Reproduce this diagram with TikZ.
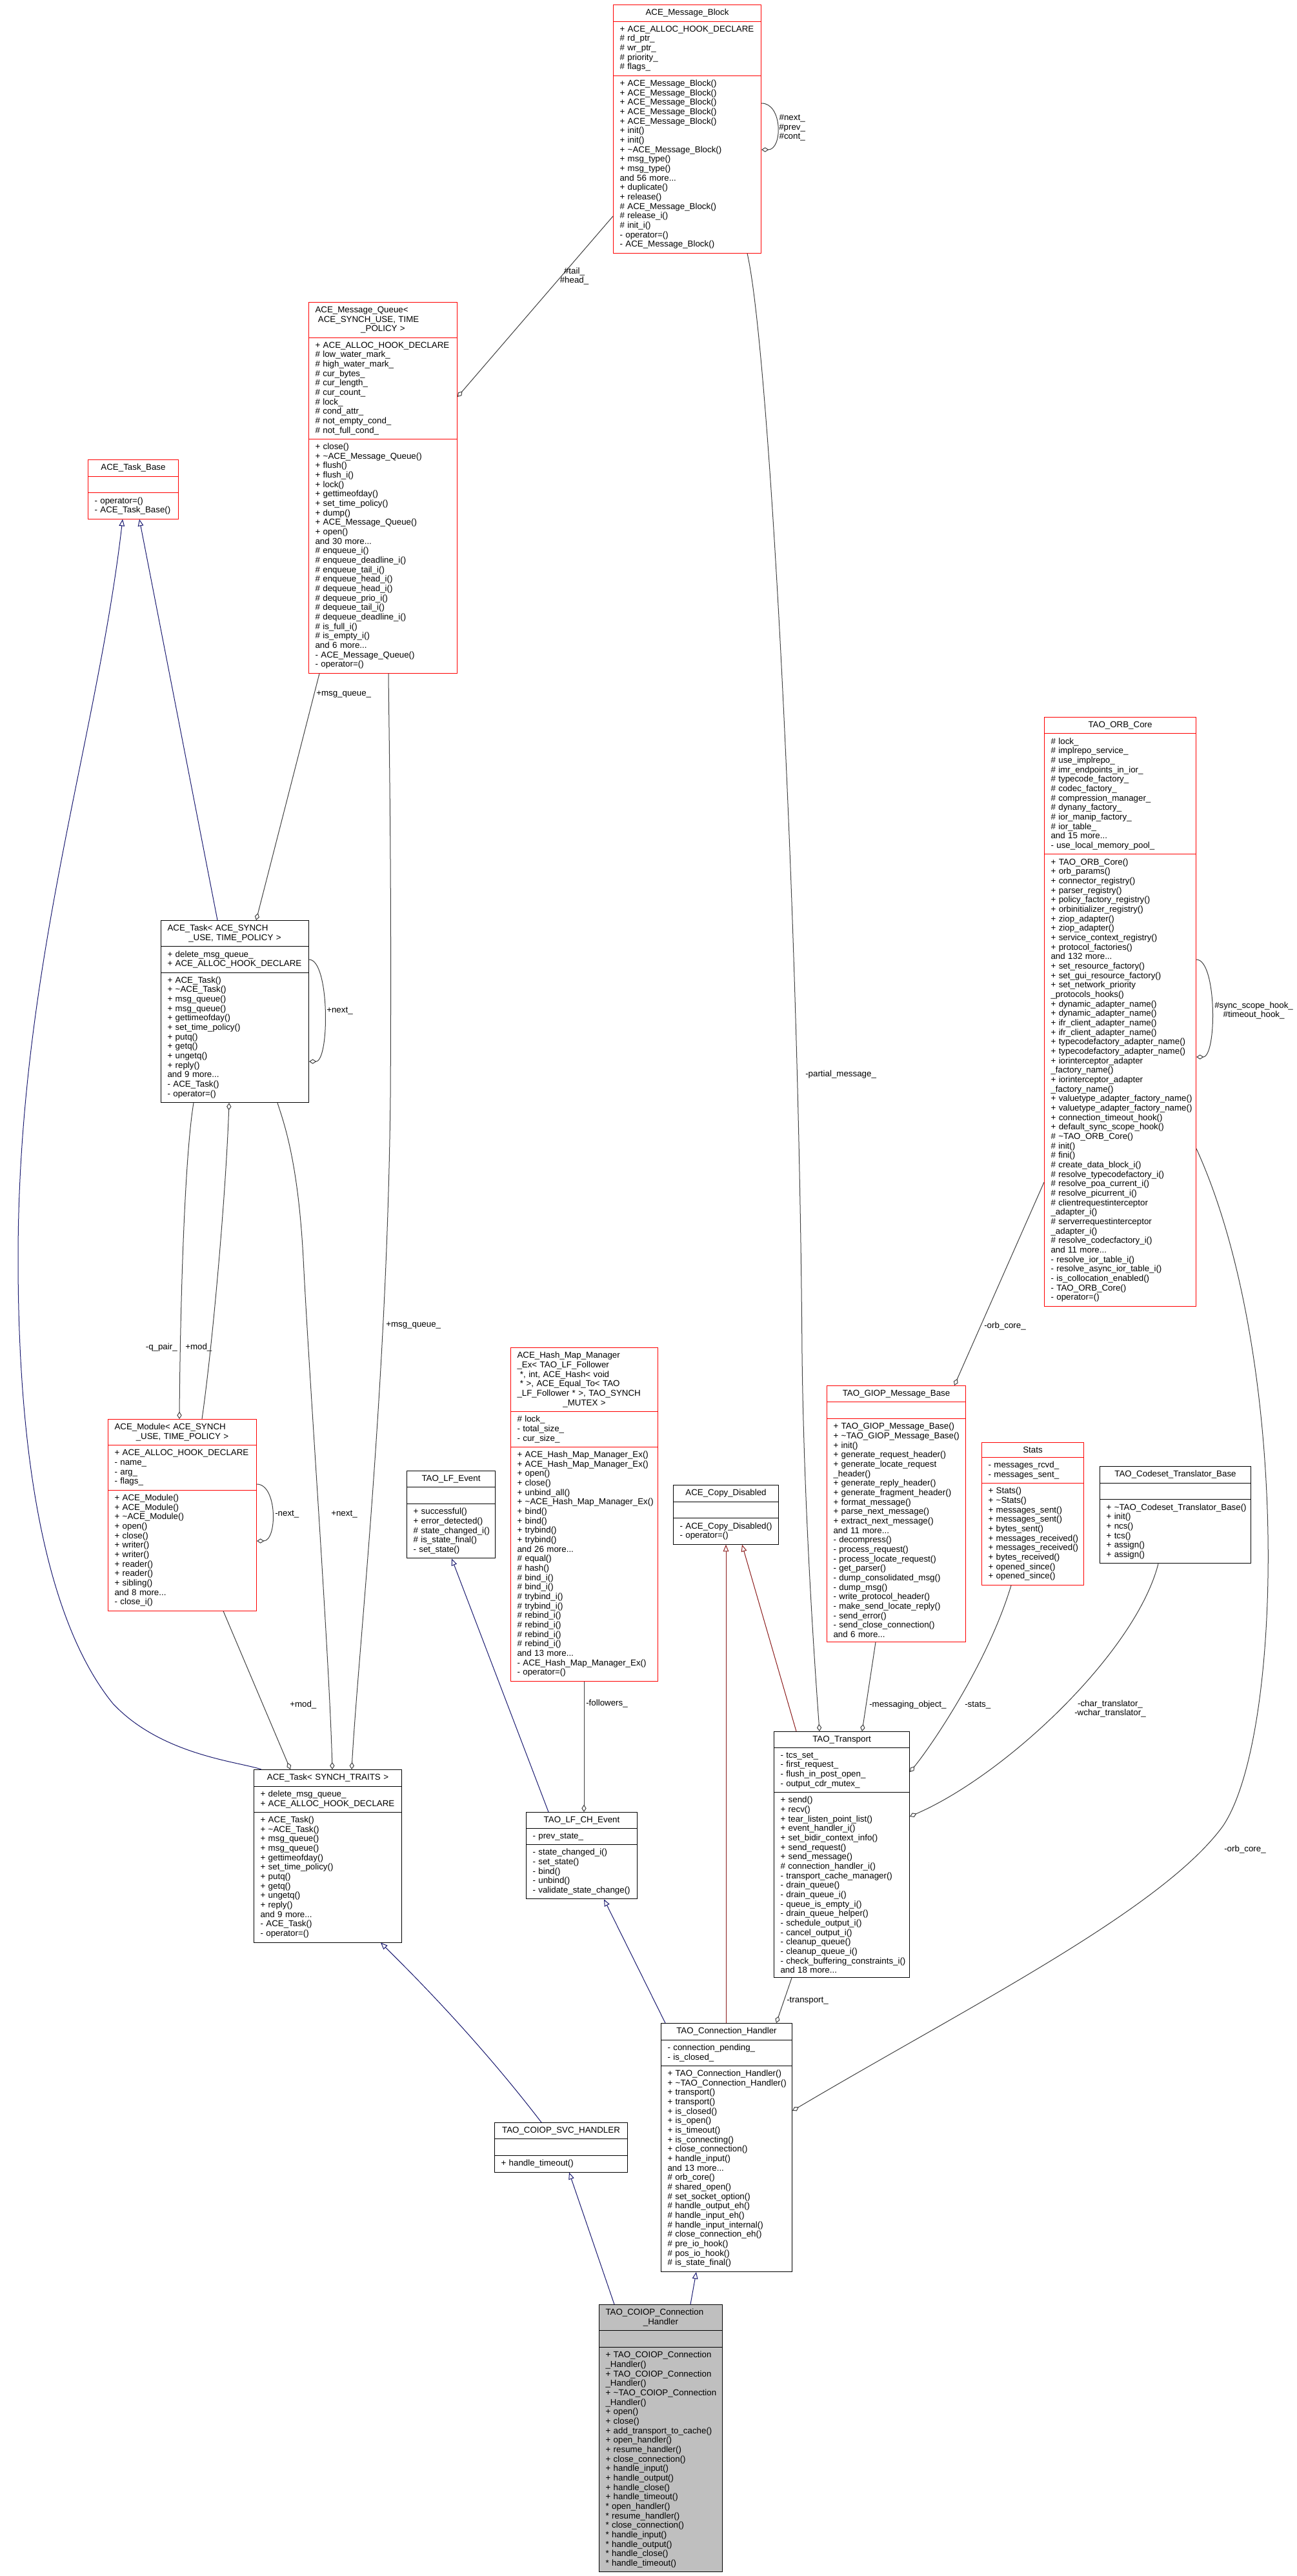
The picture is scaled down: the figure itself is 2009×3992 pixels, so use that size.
\documentclass[tikz,border=0pt]{standalone}
\usepackage{fontspec}
\setmainfont{Liberation Sans}
\usetikzlibrary{shapes.multipart,arrows.meta,calc}

\definecolor{boxred}{HTML}{FF0000}
\definecolor{boxgrey}{HTML}{BFBFBF}
\definecolor{edgegrey}{HTML}{404040}
\definecolor{inhblue}{HTML}{191970}
\definecolor{inhred}{HTML}{8B1A1A}

\newcommand{\clsfont}{\fontsize{10}{11}\selectfont}
\newcommand{\hdl}[1]{\leavevmode\hbox to\hsize{#1\hfil}\par}
\newcommand{\hdc}[1]{\leavevmode\hbox to\hsize{\hfil#1\hfil}\par}
\newcommand{\emptypart}{\hdc{\vphantom{(}}}
\newcommand{\tld}{\textasciitilde}
\hyphenpenalty=10000
\exhyphenpenalty=10000

\tikzset{
  cls/.style={rectangle split, rectangle split parts=3, rectangle split draw splits,
    draw=black, fill=white, line width=0.75pt, anchor=north west, align=left,
    text width=#1, inner xsep=7.5pt, inner ysep=4.6pt, font=\clsfont},
  undoc/.style={cls=#1, draw=boxred},
  own/.style={draw=edgegrey, line width=0.75pt,
    {Diamond[open, length=8.5pt, width=5.5pt]}-},
  isa/.style={draw=inhblue, line width=0.75pt,
    {Triangle[open, length=8pt, width=6.5pt]}-},
  isared/.style={isa, draw=inhred},
  lbl/.style={font=\clsfont, inner sep=0pt, align=center}
}

\begin{document}
\catcode`\_=12
\begin{tikzpicture}[x=0.75pt, y=-0.75pt]
\path[use as bounding box, fill=white] (0,0) rectangle (2009,3992);

% classes
\node[undoc=156.75pt] (mb) at (950,7)
{\hdc{ACE_Message_Block}
\nodepart{two}+~ACE_ALLOC_HOOK_DECLARE\\\#~rd_ptr_\\\#~wr_ptr_\\\#~priority_\\\#~flags_
\nodepart{three}+~ACE_Message_Block()\\+~ACE_Message_Block()\\+~ACE_Message_Block()\\+~ACE_Message_Block()\\+~ACE_Message_Block()\\+~init()\\+~init()\\+~\tld ACE_Message_Block()\\+~msg_type()\\+~msg_type()\\and 56 more...\\+~duplicate()\\+~release()\\\#~ACE_Message_Block()\\\#~release_i()\\\#~init_i()\\-~operator=()\\-~ACE_Message_Block()};

\node[undoc=157.5pt] (mq) at (478,468)
{\hdl{ACE_Message_Queue<}\hdl{\ ACE_SYNCH_USE, TIME}\hdc{_POLICY >}
\nodepart{two}+~ACE_ALLOC_HOOK_DECLARE\\\#~low_water_mark_\\\#~high_water_mark_\\\#~cur_bytes_\\\#~cur_length_\\\#~cur_count_\\\#~lock_\\\#~cond_attr_\\\#~not_empty_cond_\\\#~not_full_cond_
\nodepart{three}+~close()\\+~\tld ACE_Message_Queue()\\+~flush()\\+~flush_i()\\+~lock()\\+~gettimeofday()\\+~set_time_policy()\\+~dump()\\+~ACE_Message_Queue()\\+~open()\\and 30 more...\\\#~enqueue_i()\\\#~enqueue_deadline_i()\\\#~enqueue_tail_i()\\\#~enqueue_head_i()\\\#~dequeue_head_i()\\\#~dequeue_prio_i()\\\#~dequeue_tail_i()\\\#~dequeue_deadline_i()\\\#~is_full_i()\\\#~is_empty_i()\\and 6 more...\\-~ACE_Message_Queue()\\-~operator=()};

\node[undoc=90pt] (tb) at (136,712)
{\hdc{ACE_Task_Base}\nodepart{two}\emptypart\nodepart{three}-~operator=()\\-~ACE_Task_Base()};

\node[cls=156.75pt] (at) at (249,1426)
{\hdl{ACE_Task< ACE_SYNCH}\hdc{_USE, TIME_POLICY >}
\nodepart{two}+~delete_msg_queue_\\+~ACE_ALLOC_HOOK_DECLARE
\nodepart{three}+~ACE_Task()\\+~\tld ACE_Task()\\+~msg_queue()\\+~msg_queue()\\+~gettimeofday()\\+~set_time_policy()\\+~putq()\\+~getq()\\+~ungetq()\\+~reply()\\and 9 more...\\-~ACE_Task()\\-~operator=()};

\node[undoc=161.25pt] (orb) at (1618,1111)
{\hdc{TAO_ORB_Core}
\nodepart{two}\#~lock_\\\#~implrepo_service_\\\#~use_implrepo_\\\#~imr_endpoints_in_ior_\\\#~typecode_factory_\\\#~codec_factory_\\\#~compression_manager_\\\#~dynany_factory_\\\#~ior_manip_factory_\\\#~ior_table_\\and 15 more...\\-~use_local_memory_pool_
\nodepart{three}+~TAO_ORB_Core()\\+~orb_params()\\+~connector_registry()\\+~parser_registry()\\+~policy_factory_registry()\\+~orbinitializer_registry()\\+~ziop_adapter()\\+~ziop_adapter()\\+~service_context_registry()\\+~protocol_factories()\\and 132 more...\\+~set_resource_factory()\\+~set_gui_resource_factory()\\+~set_network_priority\\_protocols_hooks()\\+~dynamic_adapter_name()\\+~dynamic_adapter_name()\\+~ifr_client_adapter_name()\\+~ifr_client_adapter_name()\\+~typecodefactory_adapter_name()\\+~typecodefactory_adapter_name()\\+~iorinterceptor_adapter\\_factory_name()\\+~iorinterceptor_adapter\\_factory_name()\\+~valuetype_adapter_factory_name()\\+~valuetype_adapter_factory_name()\\+~connection_timeout_hook()\\+~default_sync_scope_hook()\\\#~\tld TAO_ORB_Core()\\\#~init()\\\#~fini()\\\#~create_data_block_i()\\\#~resolve_typecodefactory_i()\\\#~resolve_poa_current_i()\\\#~resolve_picurrent_i()\\\#~clientrequestinterceptor\\_adapter_i()\\\#~serverrequestinterceptor\\_adapter_i()\\\#~resolve_codecfactory_i()\\and 11 more...\\-~resolve_ior_table_i()\\-~resolve_async_ior_table_i()\\-~is_collocation_enabled()\\-~TAO_ORB_Core()\\-~operator=()};

\node[undoc=157.5pt] (mod) at (167,2199)
{\hdl{ACE_Module< ACE_SYNCH}\hdc{_USE, TIME_POLICY >}
\nodepart{two}+~ACE_ALLOC_HOOK_DECLARE\\-~name_\\-~arg_\\-~flags_
\nodepart{three}+~ACE_Module()\\+~ACE_Module()\\+~\tld ACE_Module()\\+~open()\\+~close()\\+~writer()\\+~writer()\\+~reader()\\+~reader()\\+~sibling()\\and 8 more...\\-~close_i()};

\node[undoc=156pt] (hm) at (791,2088)
{\hdl{ACE_Hash_Map_Manager}\hdl{_Ex< TAO_LF_Follower}\hdl{\ *, int, ACE_Hash< void}\hdl{\ * >, ACE_Equal_To< TAO}\hdl{_LF_Follower * >, TAO_SYNCH}\hdc{_MUTEX >}
\nodepart{two}\#~lock_\\-~total_size_\\-~cur_size_
\nodepart{three}+~ACE_Hash_Map_Manager_Ex()\\+~ACE_Hash_Map_Manager_Ex()\\+~open()\\+~close()\\+~unbind_all()\\+~\tld ACE_Hash_Map_Manager_Ex()\\+~bind()\\+~bind()\\+~trybind()\\+~trybind()\\and 26 more...\\\#~equal()\\\#~hash()\\\#~bind_i()\\\#~bind_i()\\\#~trybind_i()\\\#~trybind_i()\\\#~rebind_i()\\\#~rebind_i()\\\#~rebind_i()\\\#~rebind_i()\\and 13 more...\\-~ACE_Hash_Map_Manager_Ex()\\-~operator=()};

\node[cls=87.75pt] (lfe) at (630,2279)
{\hdc{TAO_LF_Event}\nodepart{two}\emptypart
\nodepart{three}+~successful()\\+~error_detected()\\\#~state_changed_i()\\\#~is_state_final()\\-~set_state()};

\node[cls=107.25pt] (cd) at (1043,2301)
{\hdc{ACE_Copy_Disabled}\nodepart{two}\emptypart
\nodepart{three}-~ACE_Copy_Disabled()\\-~operator=()};

\node[undoc=146.25pt] (giop) at (1281,2147)
{\hdc{TAO_GIOP_Message_Base}\nodepart{two}\emptypart
\nodepart{three}+~TAO_GIOP_Message_Base()\\+~\tld TAO_GIOP_Message_Base()\\+~init()\\+~generate_request_header()\\+~generate_locate_request\\_header()\\+~generate_reply_header()\\+~generate_fragment_header()\\+~format_message()\\+~parse_next_message()\\+~extract_next_message()\\and 11 more...\\-~decompress()\\-~process_request()\\-~process_locate_request()\\-~get_parser()\\-~dump_consolidated_msg()\\-~dump_msg()\\-~write_protocol_header()\\-~make_send_locate_reply()\\-~send_error()\\-~send_close_connection()\\and 6 more...};

\node[undoc=103.5pt] (st) at (1521,2235)
{\hdc{Stats}
\nodepart{two}-~messages_rcvd_\\-~messages_sent_
\nodepart{three}+~Stats()\\+~\tld Stats()\\+~messages_sent()\\+~messages_sent()\\+~bytes_sent()\\+~messages_received()\\+~messages_received()\\+~bytes_received()\\+~opened_since()\\+~opened_since()};

\node[cls=160.5pt] (cs) at (1704,2272)
{\hdc{TAO_Codeset_Translator_Base}\nodepart{two}\emptypart
\nodepart{three}+~\tld TAO_Codeset_Translator_Base()\\+~init()\\+~ncs()\\+~tcs()\\+~assign()\\+~assign()};

\node[cls=156.75pt] (ts) at (393,2742)
{\hdc{ACE_Task< SYNCH_TRAITS >}
\nodepart{two}+~delete_msg_queue_\\+~ACE_ALLOC_HOOK_DECLARE
\nodepart{three}+~ACE_Task()\\+~\tld ACE_Task()\\+~msg_queue()\\+~msg_queue()\\+~gettimeofday()\\+~set_time_policy()\\+~putq()\\+~getq()\\+~ungetq()\\+~reply()\\and 9 more...\\-~ACE_Task()\\-~operator=()};

\node[cls=114pt] (lfc) at (815,2808)
{\hdc{TAO_LF_CH_Event}
\nodepart{two}-~prev_state_
\nodepart{three}-~state_changed_i()\\-~set_state()\\-~bind()\\-~unbind()\\-~validate_state_change()};

\node[cls=142.5pt] (tr) at (1199,2683)
{\hdc{TAO_Transport}
\nodepart{two}-~tcs_set_\\-~first_request_\\-~flush_in_post_open_\\-~output_cdr_mutex_
\nodepart{three}+~send()\\+~recv()\\+~tear_listen_point_list()\\+~event_handler_i()\\+~set_bidir_context_info()\\+~send_request()\\+~send_message()\\\#~connection_handler_i()\\-~transport_cache_manager()\\-~drain_queue()\\-~drain_queue_i()\\-~queue_is_empty_i()\\-~drain_queue_helper()\\-~schedule_output_i()\\-~cancel_output_i()\\-~cleanup_queue()\\-~cleanup_queue_i()\\-~check_buffering_constraints_i()\\and 18 more...};

\node[cls=137.25pt] (ch) at (1024,3135)
{\hdc{TAO_Connection_Handler}
\nodepart{two}-~connection_pending_\\-~is_closed_
\nodepart{three}+~TAO_Connection_Handler()\\+~\tld TAO_Connection_Handler()\\+~transport()\\+~transport()\\+~is_closed()\\+~is_open()\\+~is_timeout()\\+~is_connecting()\\+~close_connection()\\+~handle_input()\\and 13 more...\\\#~orb_core()\\\#~shared_open()\\\#~set_socket_option()\\\#~handle_output_eh()\\\#~handle_input_eh()\\\#~handle_input_internal()\\\#~close_connection_eh()\\\#~pre_io_hook()\\\#~pos_io_hook()\\\#~is_state_final()};

\node[cls=139.5pt] (svc) at (766,3289)
{\hdc{TAO_COIOP_SVC_HANDLER}\nodepart{two}\emptypart
\nodepart{three}+~handle_timeout()};

\node[cls=128.25pt, fill=boxgrey] (coiop) at (928,3571)
{\hdl{TAO_COIOP_Connection}\hdc{_Handler}\nodepart{two}\emptypart
\nodepart{three}+~TAO_COIOP_Connection\\_Handler()\\+~TAO_COIOP_Connection\\_Handler()\\+~\tld TAO_COIOP_Connection\\_Handler()\\+~open()\\+~close()\\+~add_transport_to_cache()\\+~open_handler()\\+~resume_handler()\\+~close_connection()\\+~handle_input()\\+~handle_output()\\+~handle_close()\\+~handle_timeout()\\{}*~open_handler()\\{}*~resume_handler()\\{}*~close_connection()\\{}*~handle_input()\\{}*~handle_output()\\{}*~handle_close()\\{}*~handle_timeout()};

% inheritance
\draw[isa] ($(tb.south west)+(80,0)$) -- ($(at.north west)+(88,0)$);
\draw[isa] ($(tb.south west)+(54,0)$) .. controls (150,1150) and (28,1500) .. (28,1950)
  .. controls (28,2380) and (110,2560) .. (175,2640) .. controls (250,2720) and (370,2730) .. ($(ts.north west)+(12,0)$);
\draw[isa] ($(ts.south west)+(197,0)$) .. controls (640,3060) and (740,3160) .. ($(svc.north west)+(73,0)$);
\draw[isa] ($(svc.south west)+(116,0)$) -- ($(coiop.north west)+(24,0)$);
\draw[isa] ($(ch.south west)+(55,0)$) -- ($(coiop.north west)+(142,0)$);
\draw[isa] ($(lfe.south west)+(70,0)$) -- ($(lfc.north west)+(35,0)$);
\draw[isa] ($(lfc.south west)+(121,0)$) -- ($(ch.north west)+(7,0)$);
\draw[isared] ($(cd.south west)+(82,0)$) -- ($(ch.north west)+(101,0)$);
\draw[isared] ($(cd.south west)+(107,0)$) -- ($(tr.north west)+(35,0)$);

% members
\draw[own] ($(mb.north east)+(0,225)$) .. controls +(33,0) and +(33,0) .. ($(mb.north east)+(0,153)$);
\draw[own] ($(mq.north east)+(0,147)$) -- ($(mb.north west)+(0,328)$);
\draw[own] ($(tr.north west)+(71,0)$) .. controls (1264,2600) and (1246,2350) .. (1243,2100)
  .. controls (1238,1400) and (1192,540) .. ($(mb.south west)+(208,0)$);
\draw[own] ($(at.north west)+(148,0)$) -- ($(mq.south west)+(17,0)$);
\draw[own] ($(ts.north west)+(152,0)$) .. controls (555,2560) and (600,2150) .. (605,1700)
  .. controls (607,1350) and (603,1150) .. ($(mq.south west)+(124,0)$);
\draw[own] ($(at.north east)+(0,219)$) .. controls +(32,0) and +(32,0) .. ($(at.north east)+(0,61)$);
\draw[own] ($(at.south west)+(106,0)$) .. controls (350,1850) and (330,2080) .. ($(mod.north west)+(146,0)$);
\draw[own] ($(mod.north west)+(111,0)$) .. controls (279,2050) and (285,1800) .. ($(at.south west)+(51,0)$);
\draw[own] ($(ts.north west)+(122,0)$) .. controls (510,2560) and (480,2150) .. (470,1950)
  .. controls (462,1800) and (440,1740) .. ($(at.south west)+(181,0)$);
\draw[own] ($(mod.north east)+(0,189)$) .. controls +(32,0) and +(32,0) .. ($(mod.north east)+(0,101)$);
\draw[own] ($(ts.north west)+(57,0)$) -- ($(mod.south west)+(179,0)$);
\draw[own] ($(orb.north east)+(0,527)$) .. controls +(32,0) and +(32,0) .. ($(orb.north east)+(0,376)$);
\draw[own] ($(giop.north west)+(198,0)$) -- ($(orb.north west)+(0,721)$);
\draw[own] ($(ch.north east)+(0,136)$) .. controls (1500,3110) and (1800,2960) .. (1895,2830)
  .. controls (1990,2690) and (2000,2100) .. ($(orb.north east)+(0,669)$);
\draw[own] ($(lfc.north west)+(90,0)$) -- ($(hm.south west)+(114,0)$);
\draw[own] ($(tr.north west)+(137,0)$) -- ($(giop.south west)+(76,0)$);
\draw[own] ($(tr.north east)+(0,63)$) .. controls (1440,2710) and (1530,2580) .. ($(st.south west)+(46,0)$);
\draw[own] ($(tr.north east)+(0,132)$) .. controls (1560,2750) and (1760,2560) .. ($(cs.south west)+(91,0)$);
\draw[own] ($(ch.north west)+(179,0)$) -- ($(tr.south west)+(28,0)$);

% labels
\node[lbl, anchor=west] (lMbSelf) at (1207,198) {\#next_\\\#prev_\\\#cont_};
\node[lbl] (lTailHead) at (890,428) {\#tail_\\\#head_};
\node[lbl, anchor=west] (lPartial) at (1248,1665) {-partial_message_};
\node[lbl, anchor=west] (lMq1) at (490,1076) {+msg_queue_};
\node[lbl, anchor=west] (lMq2) at (598,2054) {+msg_queue_};
\node[lbl, anchor=west] (lAtSelf) at (506,1566) {+next_};
\node[lbl, anchor=east] (lQpair) at (275,2088) {-q_pair_};
\node[lbl, anchor=west] (lMod1) at (287,2088) {+mod_};
\node[lbl, anchor=west] (lNext2) at (513,2346) {+next_};
\node[lbl, anchor=west] (lModSelf) at (426,2346) {-next_};
\node[lbl, anchor=west] (lMod2) at (449,2642) {+mod_};
\node[lbl, anchor=west] (lOrbSelf) at (1882,1566) {\#sync_scope_hook_\\\#timeout_hook_};
\node[lbl, anchor=west] (lOrb1) at (1525,2055) {-orb_core_};
\node[lbl, anchor=west] (lOrb2) at (1897,2866) {-orb_core_};
\node[lbl, anchor=west] (lFollow) at (908,2640) {-followers_};
\node[lbl, anchor=west] (lMsgObj) at (1347,2642) {-messaging_object_};
\node[lbl, anchor=west] (lStats) at (1495,2642) {-stats_};
\node[lbl, anchor=west] (lTrans) at (1665,2648) {-char_translator_\\-wchar_translator_};
\node[lbl, anchor=west] (lTransport) at (1219,3101) {-transport_};
\end{tikzpicture}
\end{document}
